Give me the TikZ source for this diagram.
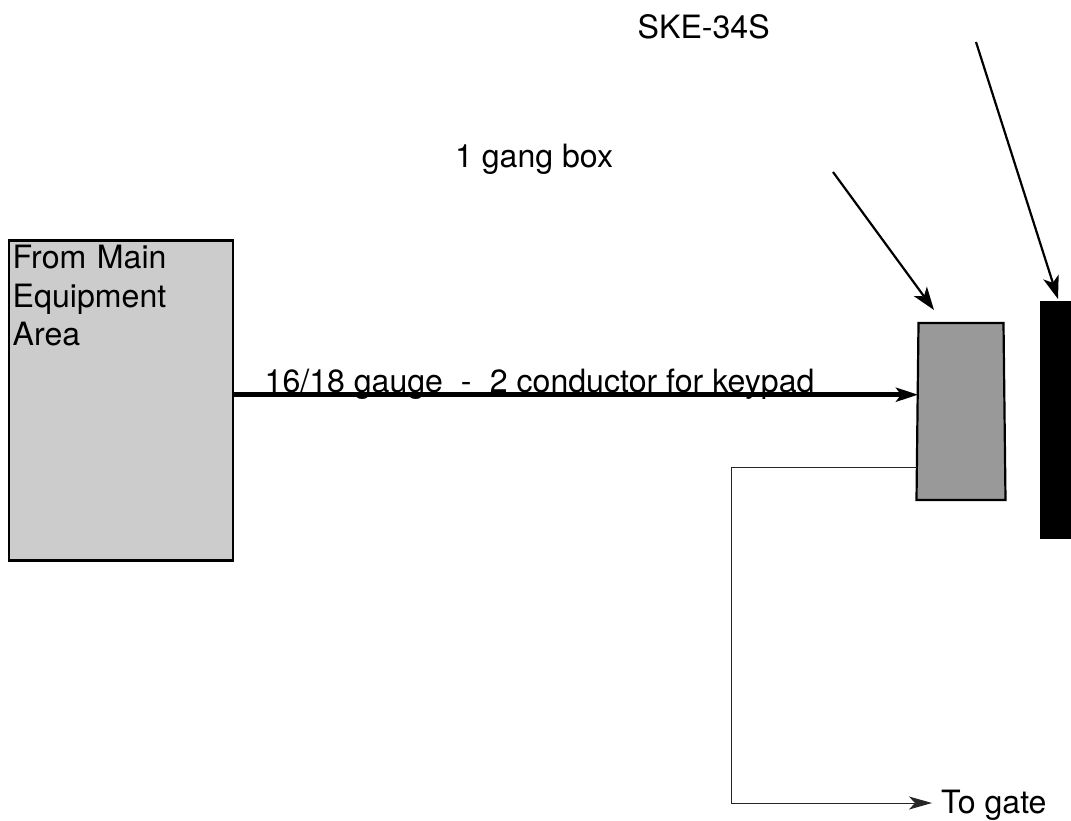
\documentclass[tikz,border=0pt]{standalone}
\usepackage{fontspec}
\setmainfont{TeX Gyre Heros}
\usetikzlibrary{arrows.meta}
\definecolor{mainfill}{gray}{0.8}
\definecolor{gangfill}{gray}{0.6}
\tikzset{
  x=1pt,y=-1pt,
  label text/.style={inner sep=0pt,font=\fontsize{32.1}{38.6}\selectfont,anchor=base west},
  pointer/.style={draw=black,line width=2.2pt,-{Stealth[length=23pt,width=16pt,inset=6pt]}},
  heavy wire/.style={draw=black,line width=5pt,-{Stealth[length=22pt,width=14pt,inset=5pt]}},
  thin wire/.style={draw=black!85,line width=1pt,-{Stealth[length=23pt,width=13pt,inset=6pt]}},
  box line/.style={draw=black,line width=2.2pt},
}
\begin{document}
\begin{tikzpicture}
\useasboundingbox (0,0) rectangle (1071,820);
% main equipment box
\node[box line,fill=mainfill,inner sep=0pt,outer sep=0pt,minimum width=224pt,minimum height=320pt,anchor=north west] (main) at (9,240.5) {};
\node[label text,align=left,anchor=base west,text width=200pt] (maintext) at (12.5,268.5) {From Main\\Equipment\\Area};
% gang box
\coordinate (gtl) at (918.5,323);
\coordinate (gtr) at (1003.5,323);
\coordinate (gbr) at (1005.5,500);
\coordinate (gbl) at (916.5,500);
\draw[box line,fill=gangfill] (gtl) -- (gtr) -- (gbr) -- (gbl) -- cycle;
% keypad
\node[fill=black,inner sep=0pt,outer sep=0pt,minimum width=31pt,minimum height=238pt,anchor=north west] (keypad) at (1040,301) {};
% labels
\node[label text] (ske) at (637.5,38) {SKE-34S};
\node[label text] (gang) at (455,167) {1 gang box};
\node[label text] (gauge) at (264.5,392) {16/18 gauge\ \ -\ \ \kern0.5pt 2 conductor for keypad};
\node[label text] (gate) at (941,813.5) {To gate};
% connectors
\coordinate (heavyfrom) at (main.east |- 0,394.7);
\coordinate (heavyto) at (918,394.7);
\draw[heavy wire] (heavyfrom) -- (heavyto);
\coordinate (ganglead) at (917,467);
\coordinate (gatelead) at (932,803);
\draw[thin wire] (ganglead) -- (731,467) -- (731,803) -- (gatelead);
\coordinate (gangptfrom) at (833,172);
\coordinate (gangptto) at (934,310);
\draw[pointer] (gangptfrom) -- (gangptto);
\coordinate (skefrom) at (976,42);
\coordinate (sketo) at (1058,299);
\draw[pointer] (skefrom) -- (sketo);
\end{tikzpicture}
\end{document}
